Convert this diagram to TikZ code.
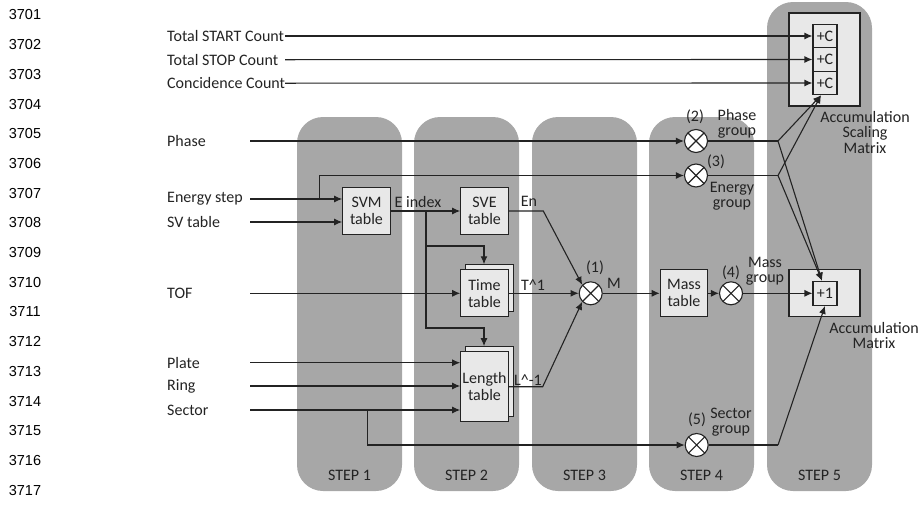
\documentclass[tikz,border=0pt]{standalone}
\usepackage{fontspec}
\setmainfont{Carlito}
\newfontfamily\numfont{Liberation Sans}
\usetikzlibrary{arrows.meta,calc}
\definecolor{stepgray}{RGB}{167,167,167}
\definecolor{boxfill}{RGB}{232,232,232}
\definecolor{ink}{RGB}{35,35,35}
\begin{document}
\begin{tikzpicture}[x=1pt,y=-1pt,
  every node/.style={font=\fontsize{16}{17}\selectfont, text=ink},
  stepbg/.style={fill=stepgray, rounded corners=26pt},
  tbl/.style={draw=ink, fill=boxfill, line width=1.1pt, minimum width=47.5pt, minimum height=47pt, align=center, inner sep=0pt},
  cell/.style={draw=ink, fill=boxfill, line width=1.1pt, minimum width=24pt, minimum height=23.5pt, inner sep=0pt},
  mul/.style={circle, draw=ink, fill=white, line width=1.1pt, minimum size=23pt, inner sep=0pt,
     path picture={\draw[ink, line width=1.1pt] (path picture bounding box.south west) -- (path picture bounding box.north east)
        (path picture bounding box.north west) -- (path picture bounding box.south east);}},
  conn/.style={draw=ink, line width=1.1pt},
  arr/.style={conn, -{Latex[length=8pt,width=7pt]}},
  lbl/.style={anchor=west, inner sep=0pt},
  tag/.style={align=center, inner sep=0pt, font=\fontsize{16}{15.5}\selectfont},
  linenum/.style={font=\numfont\fontsize{14.5}{15}\selectfont, text=black}
]
\useasboundingbox (0,0) rectangle (918,512);

% line numbers
\foreach \i in {1,...,17} {
  \pgfmathtruncatemacro{\n}{3700+\i}
  \node[linenum] (ln\i) at (25,{15+29.7*(\i-1)}) {\n};
}

% step backgrounds
\fill[stepbg] (297,117) rectangle (402,491);
\fill[stepbg] (414,117) rectangle (519,491);
\fill[stepbg] (532,117) rectangle (637,491);
\fill[stepbg] (649,117) rectangle (754,491);
\fill[stepbg] (767,2) rectangle (872,491);
\node (st1) at (349.5,475) {STEP 1};
\node (st2) at (466.5,475) {STEP 2};
\node (st3) at (584.5,475) {STEP 3};
\node (st4) at (701.5,475) {STEP 4};
\node (st5) at (819.5,475) {STEP 5};

% left labels
\node[lbl] (tstart) at (167,36) {Total START Count};
\node[lbl] (tstop) at (167,59.7) {Total STOP Count};
\node[lbl] (tcoin) at (167,83.2) {Concidence Count};
\node[lbl] (phase) at (167,141) {Phase};
\node[lbl] (estep) at (167,199) {Energy step};
\node[lbl] (svt) at (167,222) {SV table};
\node[lbl] (tof) at (167,293.3) {TOF};
\node[lbl] (plate) at (167,362.7) {Plate};
\node[lbl] (ring) at (167,386) {Ring};
\node[lbl] (sector) at (167,410) {Sector};

\coordinate (i1) at (285,36);
\coordinate (i2) at (285,59.7);
\coordinate (i3) at (285,83.2);
\coordinate (iph) at (250,141);
\coordinate (ies) at (250,199);
\coordinate (isv) at (250,222);
\coordinate (itof) at (250,293.3);
\coordinate (ipl) at (250,362.7);
\coordinate (iri) at (250,386);
\coordinate (ise) at (250,410);

% accumulation scaling matrix
\node[draw=ink, fill=boxfill, line width=1.3pt, minimum width=71pt, minimum height=93pt] (asm) at (824.5,59.5) {};
\node[cell] (pc1) at (825,36) {+C};
\node[cell] (pc2) at (825,59.5) {+C};
\node[cell] (pc3) at (825,83) {+C};
\node[tag] (asmlbl) at (865,132) {Accumulation\\Scaling\\Matrix};

% accumulation matrix
\node[draw=ink, fill=boxfill, line width=1.3pt, minimum width=71pt, minimum height=47pt] (am) at (824.5,293.3) {};
\node[cell, minimum height=24pt] (pl1) at (825,293.3) {+1};
\node[tag] (amlbl) at (874,335.5) {Accumulation\\Matrix};

% tables
\node[tbl] (svm) at (366.5,211) {SVM\\table};
\node[tbl] (sve) at (484.5,211) {SVE\\table};
\node[tbl] (timeb) at (489.5,288.3) {};
\node[tbl] (time) at (484.5,293.3) {Time\\table};
\node[tbl, minimum height=70pt] (lengthb) at (489.5,381.7) {};
\node[tbl, minimum height=70pt] (length) at (484.5,386.7) {Length\\table};
\node[tbl] (mass) at (684,293.3) {Mass\\table};

% multipliers
\node[mul] (m1) at (590.7,293.3) {};
\node[mul] (m2) at (696,141) {};
\node[mul] (m3) at (696,175.5) {};
\node[mul] (m4) at (731,293.3) {};
\node[mul] (m5) at (696.7,445) {};

% labels
\node[tag] (l1) at (595,268) {(1)};
\node[tag] (lM) at (614,283) {M};
\node[tag] (l2) at (695,117) {(2)};
\node[tag] (lph) at (737,124) {Phase\\group};
\node[tag] (l3) at (716,162) {(3)};
\node[tag] (len) at (732,196) {Energy\\group};
\node[tag] (l4) at (731,273) {(4)};
\node[tag] (lma) at (765,271) {Mass\\group};
\node[tag] (l5) at (697,420) {(5)};
\node[tag] (lse) at (731,422) {Sector\\group};
\node[tag] (lei) at (418,202) {E index};
\node[tag] (lEn) at (529,201) {En};
\node[tag] (lT) at (533,285) {T\textasciicircum1};
\node[tag] (lL) at (528,380) {L\textasciicircum-1};

% junctions
\coordinate (jes) at (319.3,199);
\coordinate (jei) at (426,211);
\coordinate (jse) at (367.3,410);
\coordinate (ksve) at (543.3,211);
\coordinate (klen) at (542.7,386.7);
\coordinate (j2) at (778,141);
\coordinate (j3) at (778,175.5);
\coordinate (j5) at (778,445);
\coordinate (ct) at (484,246);
\coordinate (cl) at (484,328);

% connectors
\draw[arr] (i1) -- (pc1.west);
\draw[arr] (i2) -- (pc2.west);
\draw[arr] (i3) -- (pc3.west);
\draw[arr] (iph) -- (m2.west);
\draw[arr] (ies) -- (ies -| svm.west);
\draw[arr] (jes) |- (m3.west);
\draw[arr] (isv) -- (isv -| svm.west);
\draw[arr] (svm.east) -- (sve.west);
\draw[arr] (jei) |- (ct) -- (ct |- timeb.north);
\draw[arr] (jei) |- (cl) -- (cl |- lengthb.north);
\draw[arr] (itof) -- (time.west);
\draw[arr] (ipl) -- (ipl -| length.west);
\draw[arr] (iri) -- (iri -| length.west);
\draw[arr] (ise) -- (ise -| length.west);
\draw[arr] (jse) |- (m5.west);
\draw[arr] (sve.east) -- (ksve) -- (m1.north west);
\draw[arr] (time.east) -- (m1.west);
\draw[arr] (length.east) -- (klen) -- (m1.south west);
\draw[arr] (m1.east) -- (mass.west);
\draw[arr] (mass.east) -- (m4.west);
\draw[arr] (m4.east) -- (pl1.west);
\draw[conn] (m2.east) -- (j2);
\draw[conn] (m3.east) -- (j3);
\draw[conn] (m5.east) -- (j5);
\draw[arr] (j2) -- ([xshift=-4pt]pc3.south);
\draw[arr] (j3) -- ([xshift=-4pt]pc3.south);
\draw[arr] (j2) -- ([xshift=-3pt]pl1.north);
\draw[arr] (j3) -- ([xshift=-3pt]pl1.north);
\draw[arr] (j5) -- (pl1.south);
\end{tikzpicture}
\end{document}
